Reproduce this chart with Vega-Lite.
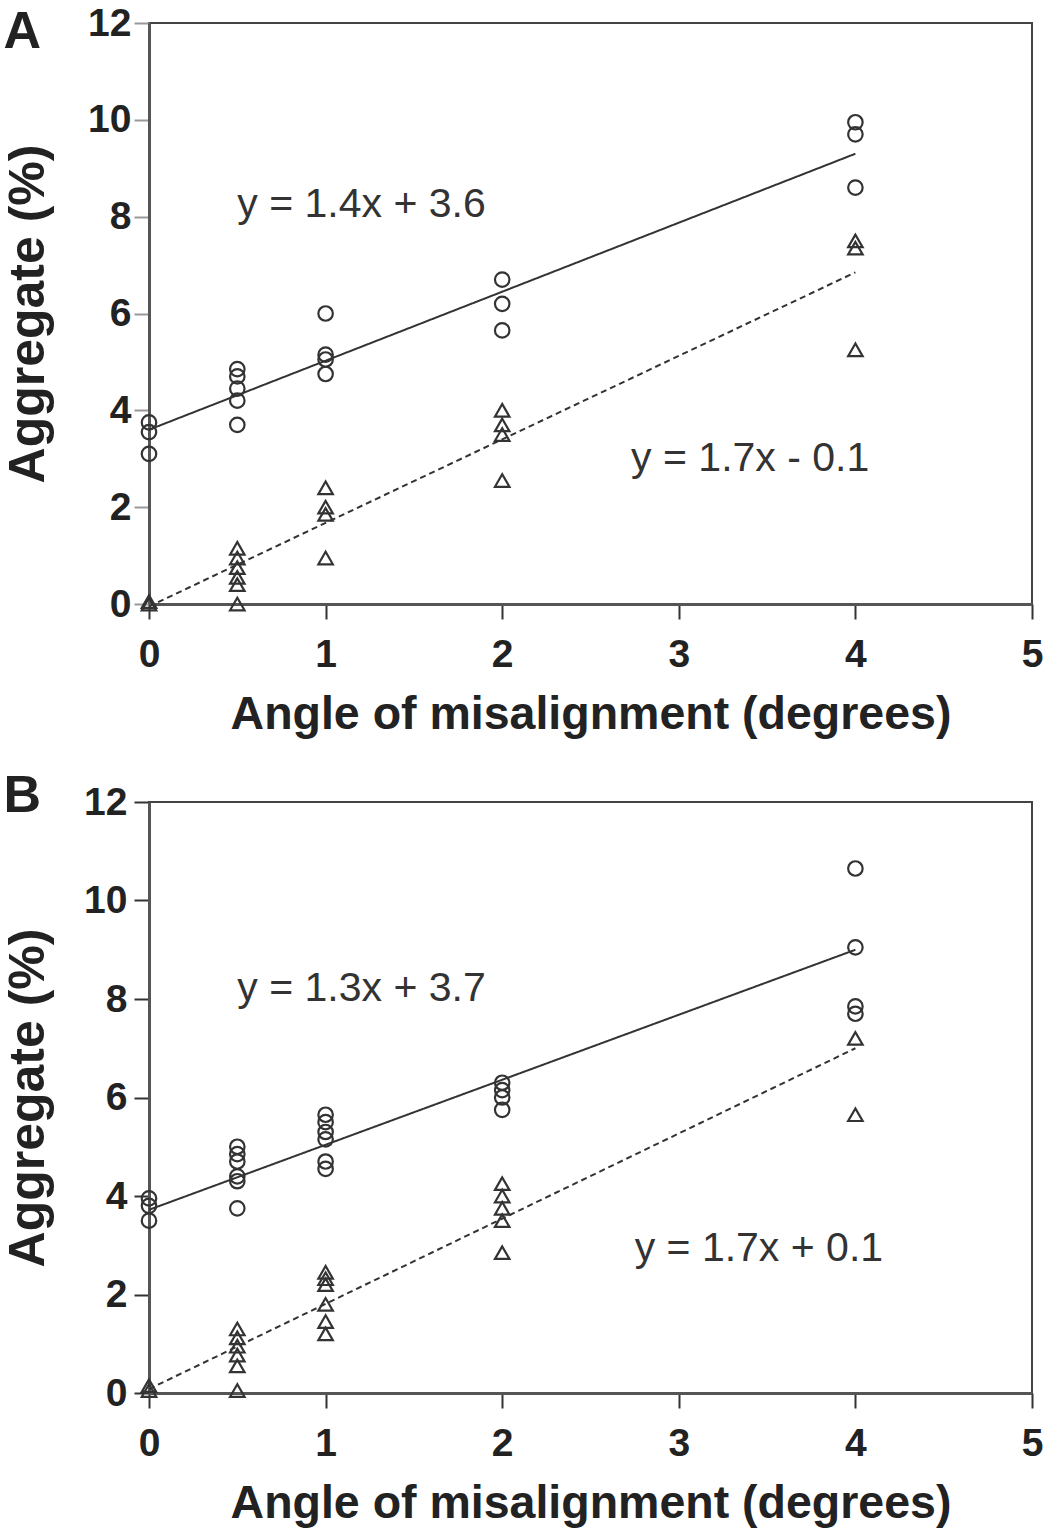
{
  "$schema": "https://vega.github.io/schema/vega-lite/v6.json",
  "background": "white",
  "padding": {"left": 2, "top": 3, "right": 4, "bottom": 0},
  "config": {
    "font": "Liberation Sans",
    "view": {"stroke": "#444", "strokeWidth": 2},
    "axis": {
      "grid": false,
      "domainColor": "#555",
      "domainWidth": 3,
      "tickColor": "#333",
      "tickSize": 15,
      "tickWidth": 2,
      "labelFont": "Liberation Sans",
      "labelFontSize": 39,
      "labelFontWeight": "bold",
      "labelColor": "#222",
      "titleFont": "Liberation Sans",
      "titleFontWeight": "bold",
      "titleColor": "#222"
    },
    "axisX": {"titleFontSize": 46.5, "labelFlush": false},
    "axisY": {"titleFontSize": 50},
    "title": {"font": "Liberation Sans", "fontSize": 52, "fontWeight": "bold", "color": "#222", "anchor": "start", "frame": "bounds"}
  },
  "datasets": {
    "pointsA": [
      {"angle": 0, "agg": 3.75, "g": "circle"}, {"angle": 0, "agg": 3.55, "g": "circle"}, {"angle": 0, "agg": 3.1, "g": "circle"},
      {"angle": 0.5, "agg": 4.85, "g": "circle"}, {"angle": 0.5, "agg": 4.7, "g": "circle"}, {"angle": 0.5, "agg": 4.45, "g": "circle"}, {"angle": 0.5, "agg": 4.2, "g": "circle"}, {"angle": 0.5, "agg": 3.7, "g": "circle"},
      {"angle": 1, "agg": 6.0, "g": "circle"}, {"angle": 1, "agg": 5.15, "g": "circle"}, {"angle": 1, "agg": 5.05, "g": "circle"}, {"angle": 1, "agg": 4.75, "g": "circle"},
      {"angle": 2, "agg": 6.7, "g": "circle"}, {"angle": 2, "agg": 6.2, "g": "circle"}, {"angle": 2, "agg": 5.65, "g": "circle"},
      {"angle": 4, "agg": 9.95, "g": "circle"}, {"angle": 4, "agg": 9.7, "g": "circle"}, {"angle": 4, "agg": 8.6, "g": "circle"},
      {"angle": 0, "agg": 0.0, "g": "triangle"}, {"angle": 0, "agg": 0.05, "g": "triangle"},
      {"angle": 0.5, "agg": 1.15, "g": "triangle"}, {"angle": 0.5, "agg": 0.95, "g": "triangle"}, {"angle": 0.5, "agg": 0.75, "g": "triangle"}, {"angle": 0.5, "agg": 0.55, "g": "triangle"}, {"angle": 0.5, "agg": 0.4, "g": "triangle"}, {"angle": 0.5, "agg": 0.0, "g": "triangle"},
      {"angle": 1, "agg": 2.4, "g": "triangle"}, {"angle": 1, "agg": 2.0, "g": "triangle"}, {"angle": 1, "agg": 1.85, "g": "triangle"}, {"angle": 1, "agg": 0.95, "g": "triangle"},
      {"angle": 2, "agg": 4.0, "g": "triangle"}, {"angle": 2, "agg": 3.7, "g": "triangle"}, {"angle": 2, "agg": 3.5, "g": "triangle"}, {"angle": 2, "agg": 2.55, "g": "triangle"},
      {"angle": 4, "agg": 7.5, "g": "triangle"}, {"angle": 4, "agg": 7.35, "g": "triangle"}, {"angle": 4, "agg": 5.25, "g": "triangle"}
    ],
    "pointsB": [
      {"angle": 0, "agg": 3.95, "g": "circle"}, {"angle": 0, "agg": 3.8, "g": "circle"}, {"angle": 0, "agg": 3.5, "g": "circle"},
      {"angle": 0.5, "agg": 5.0, "g": "circle"}, {"angle": 0.5, "agg": 4.85, "g": "circle"}, {"angle": 0.5, "agg": 4.7, "g": "circle"}, {"angle": 0.5, "agg": 4.4, "g": "circle"}, {"angle": 0.5, "agg": 4.3, "g": "circle"}, {"angle": 0.5, "agg": 3.75, "g": "circle"},
      {"angle": 1, "agg": 5.65, "g": "circle"}, {"angle": 1, "agg": 5.5, "g": "circle"}, {"angle": 1, "agg": 5.3, "g": "circle"}, {"angle": 1, "agg": 5.15, "g": "circle"}, {"angle": 1, "agg": 4.7, "g": "circle"}, {"angle": 1, "agg": 4.55, "g": "circle"},
      {"angle": 2, "agg": 6.3, "g": "circle"}, {"angle": 2, "agg": 6.15, "g": "circle"}, {"angle": 2, "agg": 6.0, "g": "circle"}, {"angle": 2, "agg": 5.75, "g": "circle"},
      {"angle": 4, "agg": 10.65, "g": "circle"}, {"angle": 4, "agg": 9.05, "g": "circle"}, {"angle": 4, "agg": 7.85, "g": "circle"}, {"angle": 4, "agg": 7.7, "g": "circle"},
      {"angle": 0, "agg": 0.15, "g": "triangle"}, {"angle": 0, "agg": 0.05, "g": "triangle"},
      {"angle": 0.5, "agg": 1.3, "g": "triangle"}, {"angle": 0.5, "agg": 1.12, "g": "triangle"}, {"angle": 0.5, "agg": 0.95, "g": "triangle"}, {"angle": 0.5, "agg": 0.77, "g": "triangle"}, {"angle": 0.5, "agg": 0.55, "g": "triangle"}, {"angle": 0.5, "agg": 0.05, "g": "triangle"},
      {"angle": 1, "agg": 2.45, "g": "triangle"}, {"angle": 1, "agg": 2.32, "g": "triangle"}, {"angle": 1, "agg": 2.2, "g": "triangle"}, {"angle": 1, "agg": 1.8, "g": "triangle"}, {"angle": 1, "agg": 1.45, "g": "triangle"}, {"angle": 1, "agg": 1.2, "g": "triangle"},
      {"angle": 2, "agg": 4.25, "g": "triangle"}, {"angle": 2, "agg": 4.0, "g": "triangle"}, {"angle": 2, "agg": 3.75, "g": "triangle"}, {"angle": 2, "agg": 3.5, "g": "triangle"}, {"angle": 2, "agg": 2.85, "g": "triangle"},
      {"angle": 4, "agg": 7.2, "g": "triangle"}, {"angle": 4, "agg": 5.65, "g": "triangle"}
    ],
    "linesA": [
      {"angle": 0, "agg": 3.6, "fit": "solid"}, {"angle": 4, "agg": 9.3, "fit": "solid"},
      {"angle": 0, "agg": -0.05, "fit": "dashed"}, {"angle": 4, "agg": 6.85, "fit": "dashed"}
    ],
    "linesB": [
      {"angle": 0, "agg": 3.72, "fit": "solid"}, {"angle": 4, "agg": 9.0, "fit": "solid"},
      {"angle": 0, "agg": 0.08, "fit": "dashed"}, {"angle": 4, "agg": 7.0, "fit": "dashed"}
    ],
    "labelsA": [
      {"angle": 0.5, "agg": 8.0, "eq": "y = 1.4x + 3.6"},
      {"angle": 2.73, "agg": 2.75, "eq": "y = 1.7x - 0.1"}
    ],
    "labelsB": [
      {"angle": 0.5, "agg": 7.96, "eq": "y = 1.3x + 3.7"},
      {"angle": 2.75, "agg": 2.68, "eq": "y = 1.7x + 0.1"}
    ]
  },
  "vconcat": [
    {
      "title": {"text": "A", "offset": -55},
      "width": 883,
      "height": 581,
      "encoding": {
        "x": {"field": "angle", "type": "quantitative", "scale": {"domain": [0, 5], "nice": false}, "axis": {"values": [0, 1, 2, 3, 4, 5], "title": "Angle of misalignment (degrees)", "labelPadding": 16, "titlePadding": 17}},
        "y": {"field": "agg", "type": "quantitative", "scale": {"domain": [0, 12], "nice": false}, "axis": {"values": [0, 2, 4, 6, 8, 10, 12], "title": "Aggregate (%)", "labelPadding": 3, "titlePadding": 34, "tickColor": "#999"}}
      },
      "layer": [
        {"data": {"name": "linesA"}, "mark": {"type": "line", "color": "#333", "strokeWidth": 2},
         "encoding": {"detail": {"field": "fit"}, "strokeDash": {"field": "fit", "type": "nominal", "scale": {"domain": ["solid", "dashed"], "range": [[1, 0], [6, 4]]}, "legend": null}}},
        {"data": {"name": "pointsA"}, "mark": {"type": "point", "filled": false, "stroke": "#333", "strokeWidth": 2.2, "size": 210, "opacity": 1},
         "encoding": {"shape": {"field": "g", "type": "nominal", "scale": {"domain": ["circle", "triangle"], "range": ["circle", "triangle-up"]}, "legend": null}}},
        {"data": {"name": "labelsA"}, "mark": {"type": "text", "align": "left", "baseline": "alphabetic", "fontSize": 41, "color": "#333", "font": "Liberation Sans"},
         "encoding": {"text": {"field": "eq"}}}
      ]
    },
    {
      "title": {"text": "B", "offset": -40},
      "width": 883,
      "height": 591,
      "encoding": {
        "x": {"field": "angle", "type": "quantitative", "scale": {"domain": [0, 5], "nice": false}, "axis": {"values": [0, 1, 2, 3, 4, 5], "title": "Angle of misalignment (degrees)", "labelPadding": 16, "titlePadding": 17}},
        "y": {"field": "agg", "type": "quantitative", "scale": {"domain": [0, 12], "nice": false}, "axis": {"values": [0, 2, 4, 6, 8, 10, 12], "title": "Aggregate (%)", "labelPadding": 7, "titlePadding": 30}}
      },
      "layer": [
        {"data": {"name": "linesB"}, "mark": {"type": "line", "color": "#333", "strokeWidth": 2},
         "encoding": {"detail": {"field": "fit"}, "strokeDash": {"field": "fit", "type": "nominal", "scale": {"domain": ["solid", "dashed"], "range": [[1, 0], [6, 4]]}, "legend": null}}},
        {"data": {"name": "pointsB"}, "mark": {"type": "point", "filled": false, "stroke": "#333", "strokeWidth": 2.2, "size": 210, "opacity": 1},
         "encoding": {"shape": {"field": "g", "type": "nominal", "scale": {"domain": ["circle", "triangle"], "range": ["circle", "triangle-up"]}, "legend": null}}},
        {"data": {"name": "labelsB"}, "mark": {"type": "text", "align": "left", "baseline": "alphabetic", "fontSize": 41, "color": "#333", "font": "Liberation Sans"},
         "encoding": {"text": {"field": "eq"}}}
      ]
    }
  ],
  "align": "none",
  "spacing": 30
}
